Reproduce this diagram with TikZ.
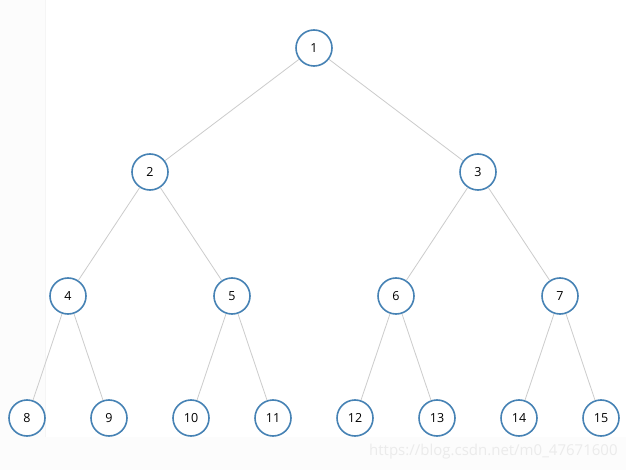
\documentclass[tikz,border=0pt]{standalone}
\usepackage{fontspec}
\setmainfont{Open Sans}
\definecolor{nodeblue}{HTML}{4682B4}
\definecolor{edgegrey}{HTML}{CCCCCC}
\definecolor{bgstrip}{HTML}{FCFCFC}
\definecolor{wm}{HTML}{EBEBEB}
\begin{document}
\begin{tikzpicture}[x=1pt,y=-1pt,
  tnode/.style={circle,draw=nodeblue,line width=1.6pt,fill=white,minimum size=36pt,inner sep=0pt,font=\fontsize{12.5pt}{14pt}\selectfont},
  tedge/.style={draw=edgegrey,line width=0.8pt}]
\useasboundingbox (0,0) rectangle (626,470);
\fill[white] (0,0) rectangle (626,470);
\fill[bgstrip] (0,0) rectangle (45,437);
\fill[bgstrip] (0,437) rectangle (626,470);
\draw[color=black!4,line width=0.6pt] (45,0) -- (45,437);
\node[tnode] (n1) at (314,48) {1};
\node[tnode] (n2) at (150,172) {2};
\node[tnode] (n3) at (478,172) {3};
\node[tnode] (n4) at (68,296) {4};
\node[tnode] (n5) at (232,296) {5};
\node[tnode] (n6) at (396,296) {6};
\node[tnode] (n7) at (560,296) {7};
\node[tnode] (n8) at (27,418) {8};
\node[tnode] (n9) at (109,418) {9};
\node[tnode] (n10) at (191,418) {10};
\node[tnode] (n11) at (273,418) {11};
\node[tnode] (n12) at (355,418) {12};
\node[tnode] (n13) at (437,418) {13};
\node[tnode] (n14) at (519,418) {14};
\node[tnode] (n15) at (601,418) {15};
\foreach \p/\c in {1/2,1/3,2/4,2/5,3/6,3/7,4/8,4/9,5/10,5/11,6/12,6/13,7/14,7/15}
  \draw[tedge] (n\p) -- (n\c);
\node[anchor=west,text=wm,font=\fontsize{15pt}{17pt}\selectfont,inner sep=0pt] (wmark) at (369,452) {https://blog.csdn.net/m0\_47671600};
\end{tikzpicture}
\end{document}
